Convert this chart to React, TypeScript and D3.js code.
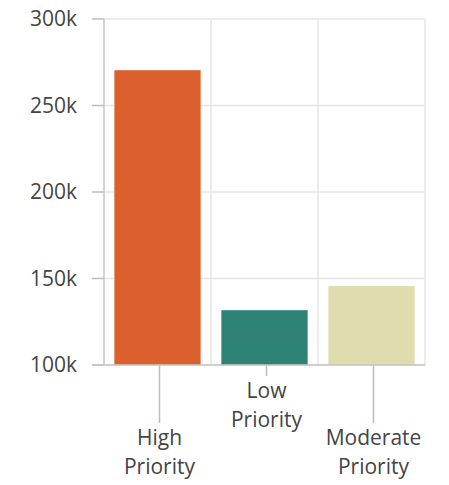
import React from "react";
import * as d3 from "d3";

const categories = ["High Priority", "Low Priority", "Moderate Priority"];
const values = [270500, 131800, 145700];
const colors = ["#dc5f2e", "#2e8276", "#dfdcae"];
const yTicks = [100000, 150000, 200000, 250000, 300000];

const W = 449, H = 485;
const left = 104, right = 425, top = 19, bottom = 365;

export default function App() {
  const x = d3.scaleBand<string>().domain(categories).range([left, right]).paddingInner(0.19).paddingOuter(0.095);
  const xb = d3.scaleBand<string>().domain(categories).range([left, right]);
  const y = d3.scaleLinear().domain([100000, 300000]).range([bottom, top]);
  const fmt = (v: number) => `${v / 1000}k`;
  const font = "'Open Sans', 'Noto Sans', sans-serif";
  return (
    <svg width={W} height={H} style={{ position: "absolute", left: 0, top: 0 }} fontFamily={font}>
      {yTicks.map((t) => (
        <line key={"g" + t} x1={left} x2={right} y1={y(t)} y2={y(t)} stroke="#e6e6e6" strokeWidth={1.5} />
      ))}
      {categories.map((c) => (
        <line key={"v" + c} x1={(xb(c) as number) + xb.bandwidth()} x2={(xb(c) as number) + xb.bandwidth()} y1={top} y2={bottom} stroke="#e6e6e6" strokeWidth={1.5} />
      ))}
      {categories.map((c, i) => (
        <rect key={c} x={x(c)} width={x.bandwidth()} y={y(values[i])} height={bottom - y(values[i])} fill={colors[i]} stroke="rgba(255,255,255,0.35)" strokeWidth={1} />
      ))}
      <line x1={left} x2={left} y1={top} y2={bottom} stroke="#c4c4c4" strokeWidth={1.5} />
      {yTicks.map((t) => (
        <g key={"t" + t}>
          <line x1={left - 12} x2={left} y1={y(t)} y2={y(t)} stroke="#bdbdbd" strokeWidth={1.5} />
          <text x={77} y={y(t)} dy="0.35em" textAnchor="end" fontSize={21} fill="#444">{fmt(t)}</text>
        </g>
      ))}
      <line x1={left - 12} x2={right} y1={bottom} y2={bottom} stroke="#c4c4c4" strokeWidth={1.5} />
      {categories.map((c, i) => {
        const cx = (xb(c) as number) + xb.bandwidth() / 2 + 2;
        const long = i % 2 === 0;
        const tl = long ? 58 : 11;
        const words = c.split(" ");
        const y0 = bottom + tl + 15;
        return (
          <g key={"x" + c}>
            <line x1={cx} x2={cx} y1={bottom} y2={bottom + tl} stroke="#bdbdbd" strokeWidth={1.5} />
            {words.map((w, j) => (
              <text key={w} x={cx} y={y0 + j * 29} dy="0.35em" textAnchor="middle" fontSize={21} fill="#444">{w}</text>
            ))}
          </g>
        );
      })}
    </svg>
  );
}
